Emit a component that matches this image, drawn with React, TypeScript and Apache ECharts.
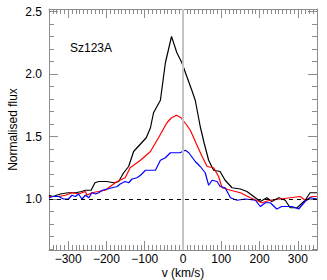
import React, { useEffect, useRef } from "react";
import * as echarts from "echarts";

const V_BLACK = [-350, -340, -320, -300, -280, -265, -255, -240, -230, -220, -200, -180, -168, -155, -142, -129, -111, -96, -85, -77, -59, -46, -30, -16, -3, 23, 32, 45, 55, 67, 80, 97, 110, 128, 150, 167, 189, 202, 219, 232, 250, 267, 280, 298, 319, 332, 350];
const F_BLACK = [1.03, 1.02, 1.04, 1.05, 1.05, 1.06, 1.07, 1.07, 1.13, 1.14, 1.14, 1.13, 1.14, 1.21, 1.26, 1.38, 1.44, 1.49, 1.57, 1.69, 1.79, 2.09, 2.30, 2.17, 2.09, 1.87, 1.79, 1.58, 1.45, 1.31, 1.23, 1.22, 1.15, 1.09, 1.08, 1.06, 1.01, 0.98, 1.01, 0.98, 1.01, 0.99, 0.93, 0.93, 0.99, 1.05, 1.05];

const V_RED = [-350, -325, -307, -290, -273, -255, -251, -238, -220, -203, -190, -177, -165, -151, -138, -111, -85, -64, -42, -30, -17, -5, 10, 19, 28, 35, 50, 63, 80, 93, 102, 124, 150, 176, 206, 228, 254, 280, 306, 319, 337, 350];
const F_RED = [1.02, 1.02, 1.03, 1.05, 1.04, 1.06, 1.03, 1.05, 1.06, 1.07, 1.10, 1.13, 1.15, 1.17, 1.25, 1.31, 1.38, 1.49, 1.61, 1.65, 1.67, 1.65, 1.59, 1.55, 1.49, 1.44, 1.34, 1.26, 1.25, 1.18, 1.09, 1.07, 1.05, 1.01, 0.97, 0.99, 1.00, 1.01, 1.02, 0.99, 1.02, 1.02];

const V_BLUE = [-350, -340, -325, -312, -299, -290, -281, -273, -264, -255, -246, -238, -228, -220, -211, -198, -185, -172, -164, -151, -142, -133, -120, -111, -98, -85, -72, -59, -46, -33, -20, -8, 6, 15, 20, 32, 45, 58, 67, 76, 89, 97, 110, 124, 141, 163, 189, 202, 215, 228, 245, 258, 272, 285, 302, 319, 332, 350];
const F_BLUE = [1.01, 1.02, 1.02, 1.00, 1.00, 1.03, 1.02, 1.04, 1.00, 1.03, 1.01, 1.05, 1.04, 1.05, 1.07, 1.08, 1.09, 1.10, 1.12, 1.14, 1.13, 1.16, 1.17, 1.19, 1.23, 1.23, 1.23, 1.31, 1.33, 1.37, 1.37, 1.37, 1.39, 1.37, 1.35, 1.30, 1.26, 1.21, 1.11, 1.15, 1.14, 1.10, 1.09, 1.01, 0.99, 1.00, 0.99, 0.94, 0.97, 0.97, 0.92, 0.94, 0.94, 0.94, 0.92, 0.98, 1.01, 1.00];

const X_TICKS = [-300, -200, -100, 0, 100, 200, 300];
const Y_TICKS = [1.0, 1.5, 2.0, 2.5];
const X_MIN = -350;
const X_MAX = 350;
const Y_MIN = 0.592;
const Y_MAX = 2.52;
const CONTINUUM = 1.0;
const LABEL = "Sz123A";
const X_NAME = "v (km/s)";
const Y_NAME = "Normalised flux";

const X_MINOR: number[] = [];
for (let k = -34; k <= 34; k++) if (k % 10 !== 0) X_MINOR.push(k * 10);
const Y_MINOR: number[] = [];
for (let k = 6; k <= 25; k++) if (k % 5 !== 0) Y_MINOR.push(k / 10);

const GRAY = "#8c8c8c";
const FONT = "Liberation Sans, Arial, sans-serif";

export default function App() {
  const ref = useRef<HTMLDivElement>(null);
  useEffect(() => {
    if (!ref.current) return;
    const chart = echarts.init(ref.current, null, { renderer: "svg" });
    const fmtX = (v: number) => (v < 0 ? "\u2212" + Math.abs(v) : String(v));
    const xAx = (pos: string, ticks: number[], len: number, line: boolean, labels: boolean, extra: any = {}) => ({
      type: "value",
      min: X_MIN,
      max: X_MAX,
      position: pos,
      axisLine: { show: line, onZero: false, lineStyle: { color: GRAY, width: 1 } },
      axisTick: { show: true, inside: true, length: len, customValues: ticks, lineStyle: { color: GRAY, width: 1 } },
      axisLabel: labels
        ? { show: true, customValues: ticks, formatter: fmtX, margin: 3, color: "#000", fontSize: 12, fontFamily: FONT }
        : { show: false },
      splitLine: { show: false },
      ...extra,
    });
    const yAx = (pos: string, ticks: number[], len: number, line: boolean, labels: boolean, extra: any = {}) => ({
      type: "value",
      min: Y_MIN,
      max: Y_MAX,
      position: pos,
      axisLine: { show: line, onZero: false, lineStyle: { color: GRAY, width: 1 } },
      axisTick: { show: true, inside: true, length: len, customValues: ticks, lineStyle: { color: GRAY, width: 1 } },
      axisLabel: labels
        ? { show: true, customValues: ticks, formatter: (v: number) => v.toFixed(1), margin: 7, color: "#000", fontSize: 12, fontFamily: FONT }
        : { show: false },
      splitLine: { show: false },
      ...extra,
    });
    const nameStyle = { color: "#000", fontSize: 12, fontFamily: FONT };
    chart.setOption({
      animation: false,
      grid: { left: 49, right: 10, top: 9, bottom: 30, containLabel: false, outerBoundsMode: "none" },
      xAxis: [
        xAx("bottom", X_TICKS, 9, true, true),
        xAx("bottom", X_MINOR, 5, false, false),
        xAx("top", X_TICKS, 9, true, false),
        xAx("top", X_MINOR, 5, false, false),
      ],
      yAxis: [
        yAx("left", Y_TICKS, 9, true, true, { name: Y_NAME, nameLocation: "middle", nameGap: 30, nameMoveOverlap: false, nameRotate: 90, nameTextStyle: nameStyle }),
        yAx("left", Y_MINOR, 5, false, false),
        yAx("right", Y_TICKS, 9, true, false),
        yAx("right", Y_MINOR, 5, false, false),
      ],
      graphic: [
        {
          type: "text",
          x: 70,
          y: 48,
          style: { text: LABEL, fill: "#000", font: "12px " + FONT, verticalAlign: "middle", align: "left" },
        },
        {
          type: "text",
          x: 183,
          y: 273,
          style: { text: X_NAME, fill: "#000", font: "12px " + FONT, verticalAlign: "middle", align: "center" },
        },
      ],
      series: [
        {
          type: "line",
          xAxisIndex: 0,
          yAxisIndex: 0,
          data: [],
          z: 1,
          markLine: {
            silent: true,
            symbol: "none",
            label: { show: false },
            data: [
              { xAxis: 0, lineStyle: { color: "#c4c4c4", width: 2, type: "solid" } },
              { yAxis: CONTINUUM, lineStyle: { color: "#000", width: 1, type: [4, 4] } },
            ],
          },
        },
        {
          type: "line",
          data: V_BLACK.map((v, i) => [v, F_BLACK[i]]),
          showSymbol: false,
          lineStyle: { color: "#000", width: 1.2 },
          z: 3,
        },
        {
          type: "line",
          data: V_RED.map((v, i) => [v, F_RED[i]]),
          showSymbol: false,
          lineStyle: { color: "#ff0000", width: 1.2 },
          z: 3,
        },
        {
          type: "line",
          data: V_BLUE.map((v, i) => [v, F_BLUE[i]]),
          showSymbol: false,
          lineStyle: { color: "#0000ff", width: 1.2 },
          z: 3,
        },
      ],
    });
    return () => chart.dispose();
  }, []);
  return <div ref={ref} style={{ position: "fixed", left: 0, top: 0, width: 327, height: 280, background: "#fff" }} />;
}
